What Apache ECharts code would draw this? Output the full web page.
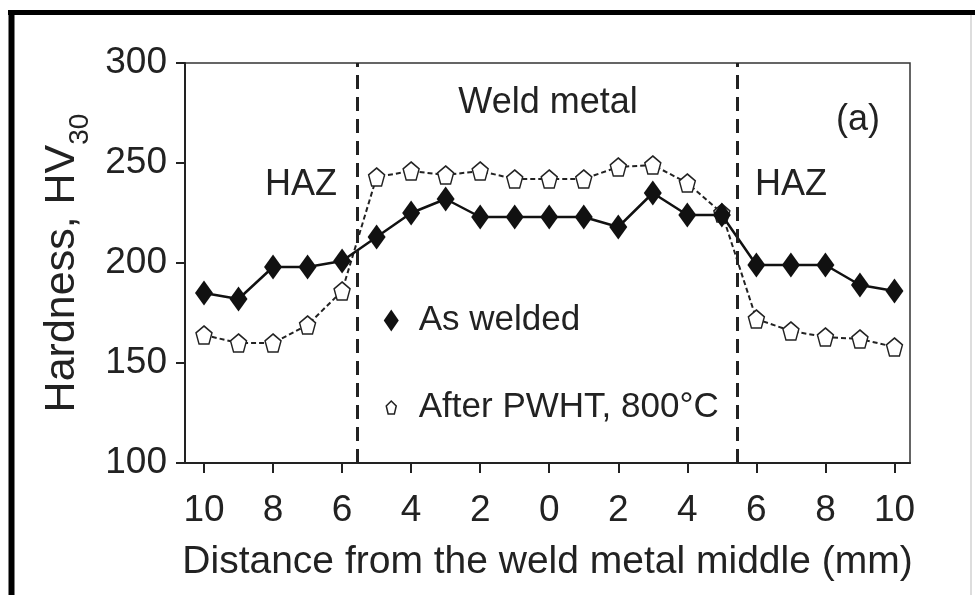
<!DOCTYPE html>
<html>
<head>
<meta charset="utf-8">
<script src="https://cdn.jsdelivr.net/npm/echarts@6/dist/echarts.min.js"></script>
<style>
html,body{margin:0;padding:0;background:#fff;}
#chart{width:975px;height:595px;}
</style>
</head>
<body>
<div id="chart"></div>
<script>
// Data (distance in mm, negative = left side)
const distance = [-10,-9,-8,-7,-6,-5,-4,-3,-2,-1,0,1,2,3,4,5,6,7,8,9,10];
const asWelded = [185,182,198,198,201,213,225,232,223,223,223,223,218,235,224,224,199,199,199,189,186];
const afterPWHT = [164,160,160,169,186,243,246,244,246,242,242,242,248,249,240,225,172,166,163,162,158];
const xTicks = [-10,-8,-6,-4,-2,0,2,4,6,8,10];
const zoneBounds = [-5.55, 5.45];
const seriesNames = ['As welded', 'After PWHT, 800°C'];

const FONT = 'Liberation Sans, Arial, sans-serif';
const TXT = '#222';
const pentagon = 'path://M50,0 L100,38 L81,100 L19,100 L0,38 Z';
const legendDiamond = 'path://M50,0 L100,50 L50,100 L0,50 Z M200,100';
const legendPentagon = 'path://M0,0 M200,100 M50,20.5 L83.3,42.9 L70.7,79.5 L29.3,79.5 L16.7,42.9 Z';

const chart = echarts.init(document.getElementById('chart'), null, {renderer: 'canvas'});
chart.setOption({
  animation: false,
  backgroundColor: '#fff',
  textStyle: {fontFamily: FONT, color: TXT},
  grid: {left: 185, right: 65, top: 63, bottom: 132, show: true, borderColor: '#333', borderWidth: 1.5, backgroundColor: 'transparent'},
  xAxis: {
    type: 'value', min: -10.55, max: 10.45,
    name: 'Distance from the weld metal middle (mm)',
    nameLocation: 'middle', nameGap: 80,
    nameTextStyle: {fontSize: 39, color: TXT, fontFamily: FONT},
    axisLine: {show: true, onZero: false, lineStyle: {color: '#222', width: 2}},
    axisTick: {show: true, length: 10, lineStyle: {color: '#222', width: 2}, customValues: xTicks},
    axisLabel: {fontSize: 37, color: TXT, fontFamily: FONT, margin: 29, customValues: xTicks,
      formatter: v => String(Math.abs(v))},
    splitLine: {show: false}
  },
  yAxis: {
    type: 'value', min: 100, max: 300, interval: 50,
    name: 'Hardness, HV{sub|30}',
    nameLocation: 'middle', nameGap: 93, nameRotate: 90,
    nameTextStyle: {fontSize: 43, color: TXT, fontFamily: FONT,
      rich: {sub: {fontSize: 28, color: TXT, fontFamily: FONT, verticalAlign: 'bottom', lineHeight: 33, padding: [0,0,-11,0]}}},
    axisLine: {show: true, onZero: false, lineStyle: {color: '#222', width: 2}},
    axisTick: {show: true, length: 9, lineStyle: {color: '#222', width: 2}},
    axisLabel: {fontSize: 37, color: TXT, fontFamily: FONT, margin: 18},
    splitLine: {show: false}
  },
  legend: {
    orient: 'vertical', left: 378, top: 298,
    itemWidth: 30, itemHeight: 22, itemGap: 52,
    symbolKeepAspect: false,
    textStyle: {fontSize: 35, color: TXT, fontFamily: FONT},
    data: [
      {name: seriesNames[0], icon: legendDiamond, itemStyle: {color: '#111', borderWidth: 0}},
      {name: seriesNames[1], icon: legendPentagon, itemStyle: {color: '#fff', borderColor: '#222', borderWidth: 1.5}}
    ],
    selectedMode: false
  },
  series: [
    {
      name: seriesNames[0], type: 'line',
      data: distance.map((d, i) => [d, asWelded[i]]),
      symbol: 'diamond', symbolSize: [18, 25],
      itemStyle: {color: '#111'},
      lineStyle: {color: '#111', width: 2.5},
      z: 3,
      markLine: {
        silent: true, symbol: 'none', label: {show: false},
        lineStyle: {color: '#222', width: 3, type: [14, 8]},
        data: zoneBounds.map(v => ({xAxis: v}))
      }
    },
    {
      name: seriesNames[1], type: 'line',
      data: distance.map((d, i) => [d, afterPWHT[i]]),
      symbol: pentagon, symbolSize: [16, 18],
      itemStyle: {color: '#fff', borderColor: '#222', borderWidth: 1.5},
      lineStyle: {color: '#222', width: 2, type: [5, 3]},
      z: 2
    }
  ],
  graphic: [
    {type: 'line', shape: {x1: 8, y1: 12.5, x2: 975, y2: 12.5}, style: {stroke: '#000', lineWidth: 5}},
    {type: 'line', shape: {x1: 11.5, y1: 10, x2: 11.5, y2: 595}, style: {stroke: '#000', lineWidth: 6}},
    {type: 'line', shape: {x1: 971, y1: 15, x2: 971, y2: 595}, style: {stroke: '#bbb', lineWidth: 1}},
    {type: 'text', x: 548, y: 103, style: {text: 'Weld metal', font: '36px ' + FONT, fill: TXT, align: 'center', verticalAlign: 'middle'}},
    {type: 'text', x: 301, y: 185, style: {text: 'HAZ', font: '36px ' + FONT, fill: TXT, align: 'center', verticalAlign: 'middle'}},
    {type: 'text', x: 791, y: 185, style: {text: 'HAZ', font: '36px ' + FONT, fill: TXT, align: 'center', verticalAlign: 'middle'}},
    {type: 'text', x: 858, y: 120, style: {text: '(a)', font: '36px ' + FONT, fill: TXT, align: 'center', verticalAlign: 'middle'}}
  ]
});
</script>
</body>
</html>
